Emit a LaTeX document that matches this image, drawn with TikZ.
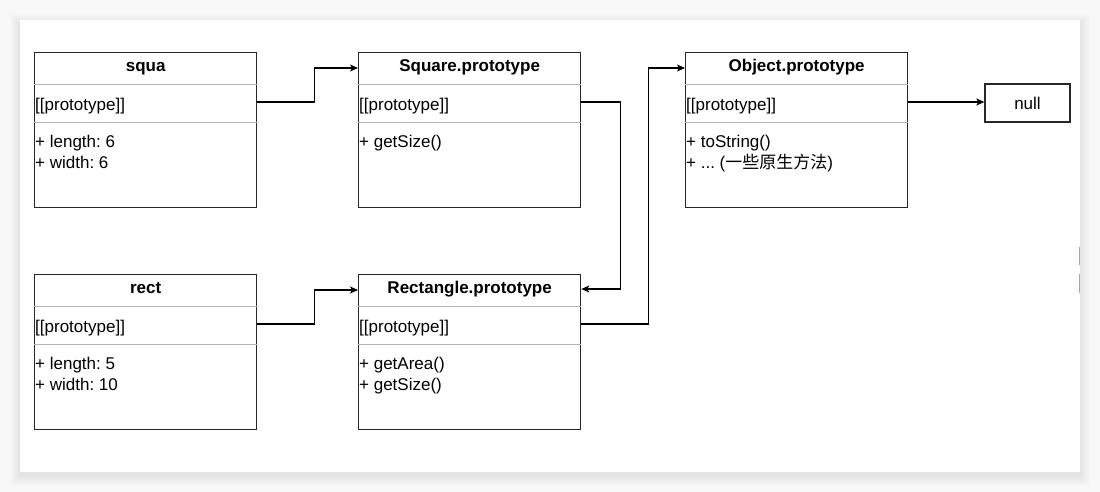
\documentclass[tikz,border=0pt]{standalone}
\usepackage{fontspec}
\setmainfont{Liberation Sans}
\newfontfamily\cjk{Noto Sans CJK SC}
\usetikzlibrary{arrows.meta,calc,positioning}
\frenchspacing

\definecolor{pagebg}{RGB}{248,248,248}
\definecolor{boxline}{RGB}{40,40,40}
\definecolor{rowline}{RGB}{180,180,180}

% one prototype box: name, top-left corner, title, members
\newcommand{\protobox}[4]{%
  \node[classbox] (#1) at (#2) {};
  \node[titletext] (#1-title) at ($(#1.north)+(0,19.5)$) {#3};
  \draw[divider] ($(#1.north west)+(0,32)$) -- ($(#1.north east)+(0,32)$);
  \draw[divider] ($(#1.north west)+(0,70)$) -- ($(#1.north east)+(0,70)$);
  \node[membertext,anchor=base west] (#1-proto) at ($(#1.north west)+(0,58.5)$) {[[prototype]]};
  \node[membertext,anchor=north west] (#1-members) at ($(#1.north west)+(0,82)$) {#4};
  \coordinate (#1-out) at ($(#1.north east)+(0,50)$);
  \coordinate (#1-inL) at ($(#1.north west)+(0,16)$);
  \coordinate (#1-inR) at ($(#1.north east)+(0,15)$);
}

\begin{document}
\begin{tikzpicture}
[x=1pt,y=-1pt,
classbox/.style={draw=boxline,line width=1.3pt,fill=white,anchor=north west,
  minimum width=222pt,minimum height=155pt,inner sep=0pt},
nullbox/.style={draw=boxline,line width=1.3pt,fill=white,
  minimum width=85pt,minimum height=38pt,inner sep=0pt,font=\fontsize{17}{20}\selectfont},
titletext/.style={font=\fontsize{17}{20}\selectfont\bfseries,inner sep=0pt,anchor=base},
membertext/.style={font=\fontsize{17}{20.6}\selectfont,inner sep=1pt,align=left},
divider/.style={draw=rowline,line width=0.8pt},
link/.style={draw=black,line width=1.2pt,-{Stealth[length=8pt,width=7pt,inset=2pt]}}]
\useasboundingbox (0,0) rectangle (1100,492);
% page and card
\fill[pagebg] (0,0) rectangle (1100,492);
\foreach \s in {1,...,10}
  \fill[black,opacity=0.008] (20-\s,20-\s+4) rectangle (1080+\s,472+\s+4);
\fill[white] (20,20) rectangle (1080,472);
\draw[black!35,line width=1pt] (1079,247) -- (1079,265);
\draw[black!35,line width=1pt] (1079,274) -- (1079,293);

% instances
\protobox{squa}{34,52}{squa}{+ length: 6\\+ width: 6}
\protobox{rect}{34,274}{rect}{+ length: 5\\+ width: 10}

% prototypes
\protobox{square}{358,52}{Square.prototype}{+ getSize()}
\protobox{rectangle}{358,274}{Rectangle.prototype}{+ getArea()\\+ getSize()}
\protobox{object}{685,52}{Object.prototype}{+ toString()\\+ ... ({\cjk 一些原生方法})}
\node[nullbox] (null) at (1027.5,103) {null};

% prototype chain
\draw[link] (squa-out) -- ++(57,0) |- (square-inL);
\draw[link] (rect-out) -- ++(57,0) |- (rectangle-inL);
\draw[link] (square-out) -- ++(39,0) |- (rectangle-inR);
\draw[link] (rectangle-out) -- ++(67,0) |- (object-inL);
\draw[link] (object-out) -- (null.west |- object-out);
\end{tikzpicture}
\end{document}
